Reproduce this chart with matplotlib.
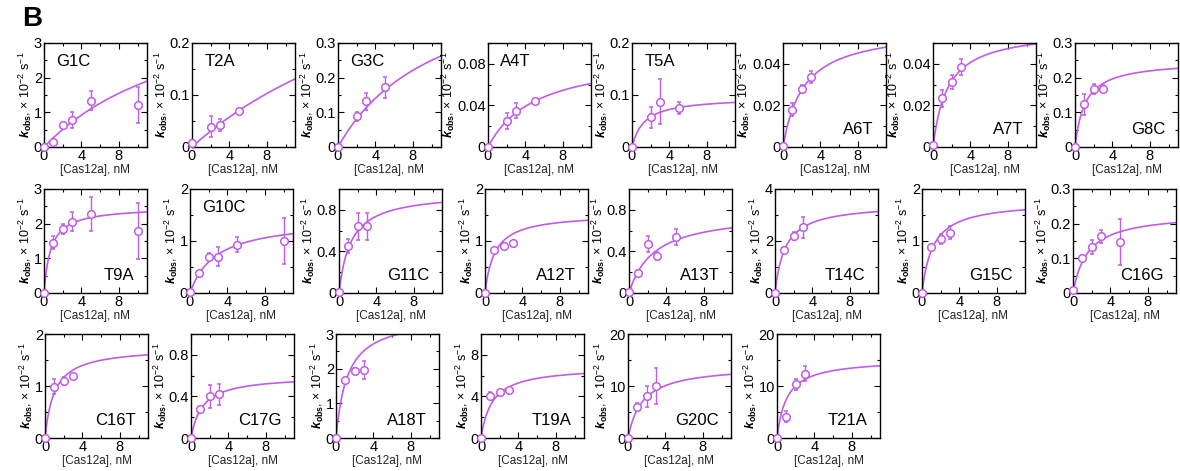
import numpy as np
import matplotlib
matplotlib.use("Agg")
import matplotlib.pyplot as plt
from matplotlib.ticker import MultipleLocator, AutoMinorLocator, FuncFormatter

plt.rcParams['font.family'] = ['Liberation Sans', 'DejaVu Sans']
plt.rcParams['mathtext.fontset'] = 'custom'
plt.rcParams['mathtext.rm'] = 'Liberation Sans'
plt.rcParams['mathtext.it'] = 'Liberation Sans:italic'
plt.rcParams['mathtext.bf'] = 'Liberation Sans:bold'
plt.rcParams['mathtext.bfit'] = 'Liberation Sans:bold:italic'

# ---------------- data ----------------
mutants = ["G1C", "T2A", "G3C", "A4T", "T5A", "A6T", "A7T", "G8C",
           "T9A", "G10C", "G11C", "A12T", "A13T", "T14C", "G15C", "C16G",
           "C16T", "C17G", "A18T", "T19A", "G20C", "T21A"]

conc = [
    [0, 1, 2, 3, 5, 10],   # G1C
    [0, 2, 3, 5],          # T2A
    [0, 2, 3, 5],          # G3C
    [0, 2, 3, 5],          # A4T
    [0, 2, 3, 5],          # T5A
    [0, 1, 2, 3],          # A6T
    [0, 1, 2, 3],          # A7T
    [0, 1, 2, 3],          # G8C
    [0, 1, 2, 3, 5, 10],   # T9A
    [0, 1, 2, 3, 5, 10],   # G10C
    [0, 1, 2, 3],          # G11C
    [0, 1, 2, 3],          # A12T
    [0, 1, 2, 3, 5],       # A13T
    [0, 1, 2, 3],          # T14C
    [0, 1, 2, 3],          # G15C
    [0, 1, 2, 3, 5],       # C16G
    [0, 1, 2, 3],          # C16T
    [0, 1, 2, 3],          # C17G
    [0, 1, 2, 3],          # A18T
    [0, 1, 2, 3],          # T19A
    [0, 1, 2, 3],          # G20C
    [0, 1, 2, 3],          # T21A
]

kobs = [
    [0, 0.15, 0.63, 0.77, 1.34, 1.21],
    [0.008, 0.039, 0.042, 0.069],
    [0, 0.088, 0.132, 0.172],
    [0, 0.025, 0.035, 0.044],
    [0, 0.057, 0.087, 0.075],
    [0.0005, 0.018, 0.028, 0.0336],
    [0.001, 0.0234, 0.0313, 0.0385],
    [0, 0.123, 0.168, 0.168],
    [0, 1.45, 1.85, 2.06, 2.28, 1.79],
    [0.02, 0.38, 0.70, 0.70, 0.93, 1.0],
    [0.01, 0.45, 0.64, 0.64],
    [0, 0.83, 0.90, 0.97],
    [0.01, 0.19, 0.47, 0.355, 0.54],
    [0, 1.65, 2.2, 2.52],
    [0, 0.88, 1.04, 1.16],
    [0.01, 0.10, 0.132, 0.163, 0.148],
    [0, 0.99, 1.1, 1.2],
    [0, 0.28, 0.40, 0.42],
    [0, 1.68, 1.94, 1.96],
    [0, 4.08, 4.4, 4.64],
    [0, 5.9, 8.0, 10.0],
    [0, 4.1, 10.3, 12.4],
]

kerr = [
    [0, 0.03, 0.07, 0.23, 0.27, 0.53],
    [0, 0.02, 0.011, 0.003],
    [0, 0.012, 0.025, 0.03],
    [0, 0.008, 0.007, 0.001],
    [0, 0.02, 0.043, 0.012],
    [0, 0.003, 0.002, 0.003],
    [0, 0.004, 0.0035, 0.004],
    [0, 0.03, 0.015, 0.01],
    [0, 0.18, 0.15, 0.28, 0.5, 0.8],
    [0, 0.03, 0.06, 0.18, 0.15, 0.45],
    [0, 0.07, 0.13, 0.13],
    [0, 0, 0, 0],
    [0, 0.03, 0.08, 0.04, 0.08],
    [0, 0.05, 0.15, 0.4],
    [0, 0.05, 0.1, 0.13],
    [0, 0.005, 0.02, 0.02, 0.066],
    [0, 0.15, 0.08, 0.03],
    [0, 0.02, 0.11, 0.1],
    [0, 0.05, 0.07, 0.25],
    [0, 0.35, 0.1, 0.2],
    [0, 0.8, 2.0, 3.5],
    [0, 1.1, 1.0, 1.5],
]

# hyperbolic fit parameters: k = kmax*x/(Kd + x)
fit_kmax = [4.82, 0.476, 0.52, 0.09, 0.096, 0.0576, 0.0566, 0.249,
            2.49, 1.425, 0.97, 1.53, 0.78, 3.44, 1.77, 0.232,
            1.745, 0.60, 3.54, 6.88, 13.96, 15.2]
fit_kd = [16.9, 29.0, 10.8, 5.2, 1.32, 2.2, 1.57, 1.07,
          0.72, 2.75, 1.25, 1.03, 2.68, 1.085, 1.16, 1.57,
          1.0, 1.22, 1.215, 1.2, 1.54, 1.04]

ymax = [3, 0.2, 0.3, 0.1, 0.2, 0.05, 0.05, 0.3,
        3, 2, 1, 2, 1, 4, 2, 0.3,
        2, 1, 3, 10, 20, 20]
ystep = [1, 0.1, 0.1, 0.04, 0.1, 0.02, 0.02, 0.1,
         1, 1, 0.4, 1, 0.4, 2, 1, 0.1,
         1, 0.4, 1, 4, 10, 10]
label_pos = ["tl", "tl", "tl", "tl", "tl", "br", "br", "br",
             "br", "tl", "br", "br", "br", "br", "br", "br",
             "br", "br", "br", "br", "br", "br"]

xticks = [0, 4, 8]
xlabel = "[Cas12a], nM"
ylabel = r"$\mathbfit{k}_{\mathbf{obs}}$, × 10$^{-2}$ s$^{-1}$"

# ---------------- layout ----------------
W, H = 1180, 471
fig = plt.figure(figsize=(W / 100, H / 100), dpi=100)

row_lefts = [
    [44, 192, 338, 488, 632, 783, 933, 1075],
    [44, 190, 339, 485, 629, 775, 922, 1073],
    [45, 191, 336, 481, 628, 777],
]
row_bottoms = [147, 293, 438]
pw, ph = 103, 104

color = "#c05ce6"

idx = 0
for r, lefts in enumerate(row_lefts):
    for lpx in lefts:
        ax = fig.add_axes([lpx / W, 1 - row_bottoms[r] / H, pw / W, ph / H])
        x = np.array(conc[idx], dtype=float)
        y = np.array(kobs[idx])
        e = np.array(kerr[idx])
        xf = np.linspace(0, 11, 200)
        yf = fit_kmax[idx] * xf / (fit_kd[idx] + xf)
        ax.plot(xf, yf, color=color, lw=1.2)
        ax.errorbar(x, y, yerr=e, fmt="o", ms=5.5, mfc="white", mec=color,
                    mew=1.1, ecolor=color, elinewidth=1.0, capsize=1.5,
                    clip_on=False, zorder=3)
        ax.set_xlim(0, 11)
        ax.set_ylim(0, ymax[idx])
        ax.set_xticks(xticks)
        ax.xaxis.set_minor_locator(MultipleLocator(2))
        ax.yaxis.set_major_locator(MultipleLocator(ystep[idx]))
        ax.yaxis.set_minor_locator(AutoMinorLocator(2))
        ax.yaxis.set_major_formatter(FuncFormatter(lambda v, p: "%g" % round(v, 6)))
        ax.tick_params(which="both", direction="in", top=True, right=True,
                       labelsize=10.5, pad=1.5, width=0.8)
        ax.tick_params(which="major", length=4)
        ax.tick_params(which="minor", length=2.5)
        for s in ax.spines.values():
            s.set_linewidth(1.0)
        ax.set_xlabel(xlabel, fontsize=8.5, labelpad=1, color="#222222")
        ax.set_ylabel(ylabel, fontsize=9, labelpad=0)
        if label_pos[idx] == "tl":
            ax.text(0.12, 0.82, mutants[idx], transform=ax.transAxes,
                    fontsize=12, ha="left", va="center")
        else:
            ax.text(0.88, 0.17, mutants[idx], transform=ax.transAxes,
                    fontsize=12, ha="right", va="center")
        idx += 1

fig.text(22 / W, 1 - 6 / H, "B", fontsize=20, fontweight="bold",
         ha="left", va="top")

fig.savefig("out.png", dpi=100)
